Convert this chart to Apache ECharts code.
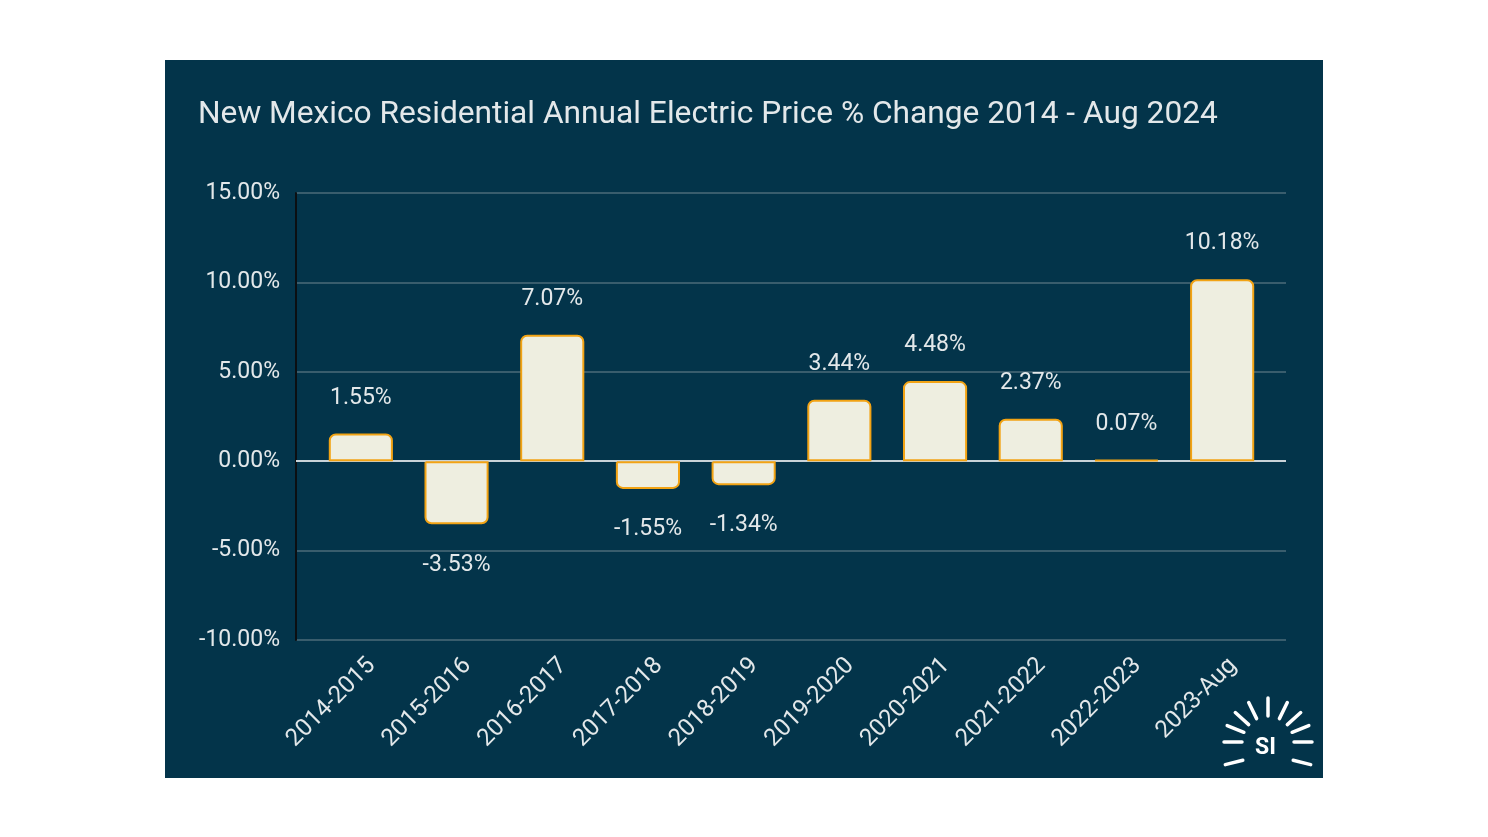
<!DOCTYPE html>
<html><head><meta charset="utf-8">
<script src="https://cdn.jsdelivr.net/npm/echarts@6/dist/echarts.min.js"></script>
<style>html,body{margin:0;padding:0;background:#fff;}#c{width:1488px;height:837px;}</style>
</head><body><div id="c"></div>
<script>
const titleText = 'New Mexico Residential Annual Electric Price % Change 2014 - Aug 2024';
const categories = ['2014-2015','2015-2016','2016-2017','2017-2018','2018-2019','2019-2020','2020-2021','2021-2022','2022-2023','2023-Aug'];
const values = [1.55, -3.53, 7.07, -1.55, -1.34, 3.44, 4.48, 2.37, 0.07, 10.18];
const yMin = -10, yMax = 15, yStep = 5;

const BG = '#03344a';
const TXT = '#e3e8ea';
const chart = echarts.init(document.getElementById('c'), null, {renderer:'canvas'});
const font = 'Roboto, "Liberation Sans", sans-serif';

// logo rays
const cx = 1268, cy = 750;
const rays = [];
const angs = [180, 158, 138, 116, 90, 64, 42, 22, 0];
angs.forEach(a => {
  const r = a * Math.PI / 180;
  const r1 = 26, r2 = 44;
  rays.push({type:'line', shape:{x1:cx+Math.cos(r)*r1, y1:cy-Math.sin(r)*r1-8, x2:cx+Math.cos(r)*r2, y2:cy-Math.sin(r)*r2-8}, style:{stroke:'#ffffff', lineWidth:3.5, lineCap:'round'}});
});
[-14, 194].forEach(a => {
  const r = a*Math.PI/180;
  rays.push({type:'line', shape:{x1:cx+Math.cos(r)*26, y1:cy-Math.sin(r)*26+4, x2:cx+Math.cos(r)*44, y2:cy-Math.sin(r)*44+4}, style:{stroke:'#ffffff', lineWidth:3.5, lineCap:'round'}});
});

chart.setOption({
  backgroundColor: '#ffffff',
  animation: false,
  graphic: [
    {type:'rect', z:-10, shape:{x:165, y:60, width:1158, height:718}, style:{fill:BG}},
    {type:'text', left:198, top:99, style:{text:titleText, fill:TXT, font:'31.7px ' + font}},
    {type:'text', left:1255, top:737, style:{text:'SI', fill:'#ffffff', font:'bold 23px ' + font}},
    ...rays
  ],
  grid: [
    {left:296, right:1488-1286, top:193, bottom:837-640},
    {left:313, right:1488-1270, top:193, bottom:837-640},
    {left:324, right:1488-1281, top:193, bottom:837-640}
  ],
  xAxis: [
    {type:'category', gridIndex:0, data:categories, show:false},
    {type:'category', gridIndex:1, data:categories, show:false},
    {type:'category', gridIndex:2, data:categories,
      axisLine:{show:false}, axisTick:{show:false},
      axisLabel:{rotate:45, color:TXT, fontSize:24, fontFamily:font, margin:22, interval:0}}
  ],
  yAxis: [
    {type:'value', gridIndex:0, min:yMin, max:yMax, interval:yStep,
      axisLine:{show:true, onZero:false, lineStyle:{color:'#0b0f12', width:2}},
      axisTick:{show:false},
      splitLine:{lineStyle:{color:'#4d6b7a', width:1.5}},
      axisLabel:{color:TXT, fontSize:23, fontFamily:font, margin:16, formatter:v=>v.toFixed(2)+'%'}},
    {type:'value', gridIndex:1, min:yMin, max:yMax, interval:yStep, show:false, splitLine:{show:false}},
    {type:'value', gridIndex:2, min:yMin, max:yMax, interval:yStep, show:false, splitLine:{show:false}}
  ],
  series: [
    {type:'line', xAxisIndex:0, yAxisIndex:0, data:[], silent:true, z:1,
      markLine:{symbol:'none', silent:true, label:{show:false}, lineStyle:{color:'#c9d3d8', width:2, type:'solid'}, data:[{yAxis:0}]}},
    {type:'line', xAxisIndex:2, yAxisIndex:2, data:[], silent:true},
    {type:'bar', xAxisIndex:1, yAxisIndex:1,
      data:values.map(v=>({value:v, itemStyle:{borderRadius: v>=0?[6,6,0,0]:[0,0,6,6]},
        label:{position: v>=0?'top':'bottom', distance: v>=0?24:29}})),
      barCategoryGap:'33%',
      itemStyle:{color:'#eeeee0', borderColor:'#f2a314', borderWidth:2},
      label:{show:true, color:TXT, fontSize:23, fontFamily:font,
        formatter:p=>p.value.toFixed(2)+'%'},
      z:5}
  ]
});
</script></body></html>
